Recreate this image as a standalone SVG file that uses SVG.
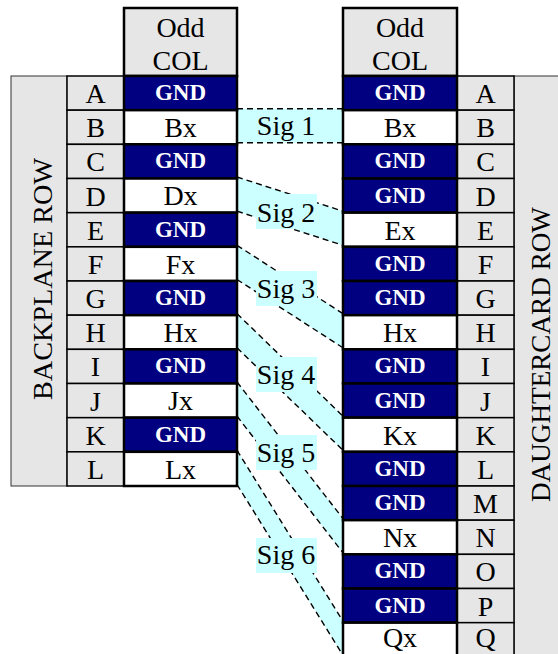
<svg xmlns="http://www.w3.org/2000/svg" width="558" height="654" viewBox="0 0 558 654">
  <style>
    .txt { font-family: "Liberation Serif", "Times New Roman", serif; font-size: 28px; fill: #000; text-anchor: middle; }
    .gndt { font-family: "Liberation Serif", "Times New Roman", serif; font-size: 23px; font-weight: bold; fill: #fff; text-anchor: middle; }
    .lab { fill: #e6e6e6; stroke: #333; stroke-width: 1; }
    .let { fill: #e6e6e6; stroke: #000; stroke-width: 1.5; }
    .hdr { fill: #e6e6e6; stroke: #000; stroke-width: 2.5; }
    .gnd { fill: #000080; stroke: #000; stroke-width: 2.5; }
    .sig { fill: #fff; stroke: #000; stroke-width: 2.5; }
    .band { fill: #ccffff; stroke: none; }
    .dash { fill: none; stroke: #000; stroke-width: 1.4; stroke-dasharray: 6 4; }
    .tag { fill: #ccffff; }
  </style>

  <!-- signal bands between the two connectors -->
  <g id="connectors">
    <g id="sig1">
      <polygon class="band" points="237,108.7 343,108.7 343,142.8 237,142.8"/>
      <line class="dash" x1="237" y1="108.7" x2="343" y2="108.7"/>
      <line class="dash" x1="237" y1="142.8" x2="343" y2="142.8"/>
    </g>
    <g id="sig2">
      <polygon class="band" points="237,177 343,211.2 343,245.3 237,211.2"/>
      <line class="dash" x1="237" y1="177" x2="343" y2="211.2"/>
      <line class="dash" x1="237" y1="211.2" x2="343" y2="245.3"/>
    </g>
    <g id="sig3">
      <polygon class="band" points="237,245.3 343,313.7 343,347.8 237,279.5"/>
      <line class="dash" x1="237" y1="245.3" x2="343" y2="313.7"/>
      <line class="dash" x1="237" y1="279.5" x2="343" y2="347.8"/>
    </g>
    <g id="sig4">
      <polygon class="band" points="237,313.7 343,416.2 343,450.3 237,347.8"/>
      <line class="dash" x1="237" y1="313.7" x2="343" y2="416.2"/>
      <line class="dash" x1="237" y1="347.8" x2="343" y2="450.3"/>
    </g>
    <g id="sig5">
      <polygon class="band" points="237,382 343,518.7 343,552.8 237,416.2"/>
      <line class="dash" x1="237" y1="382" x2="343" y2="518.7"/>
      <line class="dash" x1="237" y1="416.2" x2="343" y2="552.8"/>
    </g>
    <g id="sig6">
      <polygon class="band" points="237,450.3 343,621.2 343,655.3 237,484.5"/>
      <line class="dash" x1="237" y1="450.3" x2="343" y2="621.2"/>
      <line class="dash" x1="237" y1="484.5" x2="343" y2="655.3"/>
    </g>
    <!-- band labels -->
    <g id="sig-labels">
      <text class="txt" x="286" y="135">Sig 1</text>
      <rect class="tag" x="256" y="194" width="61" height="35"/>
      <text class="txt" x="286" y="222">Sig 2</text>
      <rect class="tag" x="256" y="271" width="61" height="35"/>
      <text class="txt" x="286" y="298">Sig 3</text>
      <rect class="tag" x="256" y="357" width="61" height="35"/>
      <text class="txt" x="286" y="384">Sig 4</text>
      <rect class="tag" x="256" y="435" width="61" height="35"/>
      <text class="txt" x="286" y="462">Sig 5</text>
      <rect class="tag" x="256" y="538" width="61" height="35"/>
      <text class="txt" x="286" y="564">Sig 6</text>
    </g>
  </g>

  <!-- backplane connector (left) -->
  <g id="backplane">
    <rect class="lab" x="11" y="76" width="56" height="410"/>
    <text class="txt" transform="translate(52,279) rotate(-90)" textLength="242" lengthAdjust="spacingAndGlyphs">BACKPLANE ROW</text>

    <rect class="hdr" x="124" y="8" width="113" height="68"/>
    <text class="txt" x="180.5" y="37">Odd</text>
    <text class="txt" x="180.5" y="70">COL</text>

    <g id="bp-letters">
      <rect class="let" x="67" y="76" width="57" height="34.17"/>
      <rect class="let" x="67" y="110.17" width="57" height="34.17"/>
      <rect class="let" x="67" y="144.33" width="57" height="34.17"/>
      <rect class="let" x="67" y="178.5" width="57" height="34.17"/>
      <rect class="let" x="67" y="212.67" width="57" height="34.17"/>
      <rect class="let" x="67" y="246.83" width="57" height="34.17"/>
      <rect class="let" x="67" y="281" width="57" height="34.17"/>
      <rect class="let" x="67" y="315.17" width="57" height="34.17"/>
      <rect class="let" x="67" y="349.33" width="57" height="34.17"/>
      <rect class="let" x="67" y="383.5" width="57" height="34.17"/>
      <rect class="let" x="67" y="417.67" width="57" height="34.17"/>
      <rect class="let" x="67" y="451.83" width="57" height="34.17"/>
      <text class="txt" x="95.5" y="103">A</text>
      <text class="txt" x="95.5" y="137.2">B</text>
      <text class="txt" x="95.5" y="171.3">C</text>
      <text class="txt" x="95.5" y="205.5">D</text>
      <text class="txt" x="95.5" y="239.7">E</text>
      <text class="txt" x="95.5" y="273.8">F</text>
      <text class="txt" x="95.5" y="308">G</text>
      <text class="txt" x="95.5" y="342.2">H</text>
      <text class="txt" x="95.5" y="376.3">I</text>
      <text class="txt" x="95.5" y="410.5">J</text>
      <text class="txt" x="95.5" y="444.7">K</text>
      <text class="txt" x="95.5" y="478.8">L</text>
    </g>

    <g id="bp-pins">
      <rect class="gnd" x="124" y="76" width="113" height="34.17"/>
      <rect class="sig" x="124" y="110.17" width="113" height="34.17"/>
      <rect class="gnd" x="124" y="144.33" width="113" height="34.17"/>
      <rect class="sig" x="124" y="178.5" width="113" height="34.17"/>
      <rect class="gnd" x="124" y="212.67" width="113" height="34.17"/>
      <rect class="sig" x="124" y="246.83" width="113" height="34.17"/>
      <rect class="gnd" x="124" y="281" width="113" height="34.17"/>
      <rect class="sig" x="124" y="315.17" width="113" height="34.17"/>
      <rect class="gnd" x="124" y="349.33" width="113" height="34.17"/>
      <rect class="sig" x="124" y="383.5" width="113" height="34.17"/>
      <rect class="gnd" x="124" y="417.67" width="113" height="34.17"/>
      <rect class="sig" x="124" y="451.83" width="113" height="34.17"/>
      <text class="gndt" x="180.5" y="100">GND</text>
      <text class="txt" x="180.5" y="137">Bx</text>
      <text class="gndt" x="180.5" y="168.3">GND</text>
      <text class="txt" x="180.5" y="205.3">Dx</text>
      <text class="gndt" x="180.5" y="236.7">GND</text>
      <text class="txt" x="180.5" y="273.6">Fx</text>
      <text class="gndt" x="180.5" y="305">GND</text>
      <text class="txt" x="180.5" y="342">Hx</text>
      <text class="gndt" x="180.5" y="373.3">GND</text>
      <text class="txt" x="180.5" y="410.3">Jx</text>
      <text class="gndt" x="180.5" y="441.7">GND</text>
      <text class="txt" x="180.5" y="478.6">Lx</text>
    </g>
  </g>

  <!-- daughtercard connector (right) -->
  <g id="daughtercard">
    <rect class="lab" x="514" y="76" width="50" height="590"/>
    <text class="txt" transform="translate(550,354.5) rotate(-90)" textLength="295" lengthAdjust="spacingAndGlyphs">DAUGHTERCARD  ROW</text>

    <rect class="hdr" x="343" y="8" width="114" height="68"/>
    <text class="txt" x="400" y="37">Odd</text>
    <text class="txt" x="400" y="70">COL</text>

    <g id="dc-letters">
      <rect class="let" x="457" y="76" width="57" height="34.17"/>
      <rect class="let" x="457" y="110.17" width="57" height="34.17"/>
      <rect class="let" x="457" y="144.33" width="57" height="34.17"/>
      <rect class="let" x="457" y="178.5" width="57" height="34.17"/>
      <rect class="let" x="457" y="212.67" width="57" height="34.17"/>
      <rect class="let" x="457" y="246.83" width="57" height="34.17"/>
      <rect class="let" x="457" y="281" width="57" height="34.17"/>
      <rect class="let" x="457" y="315.17" width="57" height="34.17"/>
      <rect class="let" x="457" y="349.33" width="57" height="34.17"/>
      <rect class="let" x="457" y="383.5" width="57" height="34.17"/>
      <rect class="let" x="457" y="417.67" width="57" height="34.17"/>
      <rect class="let" x="457" y="451.83" width="57" height="34.17"/>
      <rect class="let" x="457" y="486" width="57" height="34.17"/>
      <rect class="let" x="457" y="520.17" width="57" height="34.17"/>
      <rect class="let" x="457" y="554.33" width="57" height="34.17"/>
      <rect class="let" x="457" y="588.5" width="57" height="34.17"/>
      <rect class="let" x="457" y="622.67" width="57" height="34.17"/>
      <text class="txt" x="485.5" y="103">A</text>
      <text class="txt" x="485.5" y="137.2">B</text>
      <text class="txt" x="485.5" y="171.3">C</text>
      <text class="txt" x="485.5" y="205.5">D</text>
      <text class="txt" x="485.5" y="239.7">E</text>
      <text class="txt" x="485.5" y="273.8">F</text>
      <text class="txt" x="485.5" y="308">G</text>
      <text class="txt" x="485.5" y="342.2">H</text>
      <text class="txt" x="485.5" y="376.3">I</text>
      <text class="txt" x="485.5" y="410.5">J</text>
      <text class="txt" x="485.5" y="444.7">K</text>
      <text class="txt" x="485.5" y="478.8">L</text>
      <text class="txt" x="485.5" y="513">M</text>
      <text class="txt" x="485.5" y="547.2">N</text>
      <text class="txt" x="485.5" y="581.3">O</text>
      <text class="txt" x="485.5" y="615.5">P</text>
      <text class="txt" x="485.5" y="647">Q</text>
    </g>

    <g id="dc-pins">
      <rect class="gnd" x="343" y="76" width="114" height="34.17"/>
      <rect class="sig" x="343" y="110.17" width="114" height="34.17"/>
      <rect class="gnd" x="343" y="144.33" width="114" height="34.17"/>
      <rect class="gnd" x="343" y="178.5" width="114" height="34.17"/>
      <rect class="sig" x="343" y="212.67" width="114" height="34.17"/>
      <rect class="gnd" x="343" y="246.83" width="114" height="34.17"/>
      <rect class="gnd" x="343" y="281" width="114" height="34.17"/>
      <rect class="sig" x="343" y="315.17" width="114" height="34.17"/>
      <rect class="gnd" x="343" y="349.33" width="114" height="34.17"/>
      <rect class="gnd" x="343" y="383.5" width="114" height="34.17"/>
      <rect class="sig" x="343" y="417.67" width="114" height="34.17"/>
      <rect class="gnd" x="343" y="451.83" width="114" height="34.17"/>
      <rect class="gnd" x="343" y="486" width="114" height="34.17"/>
      <rect class="sig" x="343" y="520.17" width="114" height="34.17"/>
      <rect class="gnd" x="343" y="554.33" width="114" height="34.17"/>
      <rect class="gnd" x="343" y="588.5" width="114" height="34.17"/>
      <rect class="sig" x="343" y="622.67" width="114" height="34.17"/>
      <text class="gndt" x="400" y="100">GND</text>
      <text class="txt" x="400" y="137">Bx</text>
      <text class="gndt" x="400" y="168.3">GND</text>
      <text class="gndt" x="400" y="202.5">GND</text>
      <text class="txt" x="400" y="239.5">Ex</text>
      <text class="gndt" x="400" y="270.8">GND</text>
      <text class="gndt" x="400" y="305">GND</text>
      <text class="txt" x="400" y="342">Hx</text>
      <text class="gndt" x="400" y="373.3">GND</text>
      <text class="gndt" x="400" y="407.5">GND</text>
      <text class="txt" x="400" y="444.5">Kx</text>
      <text class="gndt" x="400" y="475.8">GND</text>
      <text class="gndt" x="400" y="510">GND</text>
      <text class="txt" x="400" y="547">Nx</text>
      <text class="gndt" x="400" y="578.3">GND</text>
      <text class="gndt" x="400" y="612.5">GND</text>
      <text class="txt" x="400" y="647">Qx</text>
    </g>
  </g>
</svg>
